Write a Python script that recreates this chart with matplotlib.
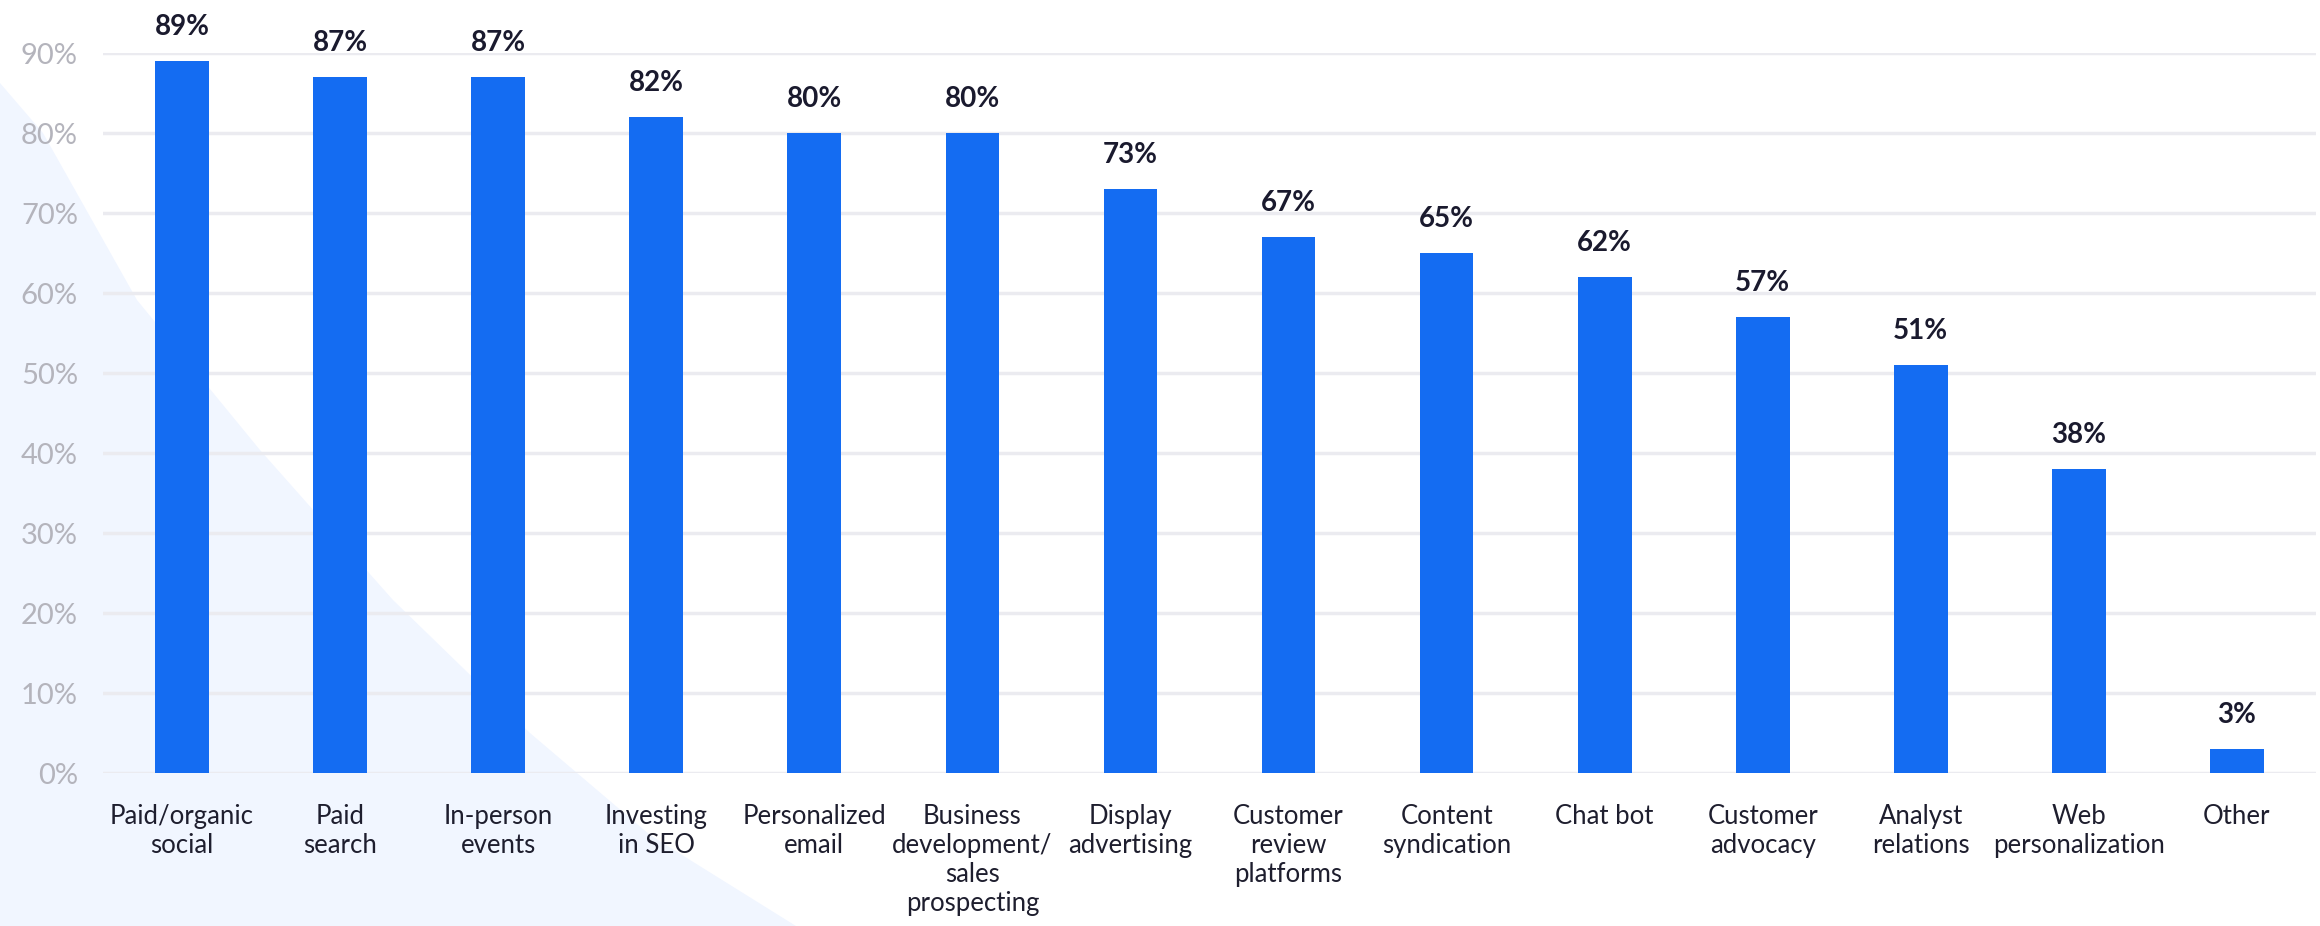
import matplotlib.pyplot as plt
from matplotlib.patches import Polygon

categories = [
    'Paid/organic\nsocial', 'Paid\nsearch', 'In-person\nevents', 'Investing\nin SEO',
    'Personalized\nemail', 'Business\ndevelopment/\nsales\nprospecting', 'Display\nadvertising',
    'Customer\nreview\nplatforms', 'Content\nsyndication', 'Chat bot', 'Customer\nadvocacy',
    'Analyst\nrelations', 'Web\npersonalization', 'Other',
]
values = [89, 87, 87, 82, 80, 80, 73, 67, 65, 62, 57, 51, 38, 3]
yticks = [0, 10, 20, 30, 40, 50, 60, 70, 80, 90]

BLUE = '#146cf2'
W, H = 2320, 926

plt.rcParams['font.family'] = ['Lato', 'DejaVu Sans']

fig = plt.figure(figsize=(W / 100, H / 100), dpi=100)

# soft blue wedge in the lower-left background
edge = [(0, 83), (43, 133), (137, 300), (260, 450), (393, 600), (530, 733),
        (650, 835), (796, 926), (0, 926)]
wedge = Polygon([(x / W, 1 - y / H) for x, y in edge], closed=True,
                transform=fig.transFigure, facecolor='#f1f6ff', edgecolor='none', zorder=-5)
fig.patches.append(wedge)

ax = fig.add_axes([103 / W, (H - 773) / H, (2316 - 103) / W, (773 - 53) / H])
ax.set_zorder(1)
ax.patch.set_alpha(0)

x = range(len(values))
ax.bar(x, values, width=0.34, color=BLUE, zorder=3)

for i, v in enumerate(values):
    ax.annotate('{}%'.format(v), (i, v), xytext=(0, 15), textcoords='offset points',
                ha='center', va='bottom', fontsize=20, fontweight='bold', color='#1a1a2e')

ax.set_xlim(-0.5, 13.5)
ax.set_ylim(0, 90)
ax.set_yticks(yticks)
ax.set_yticklabels(['{}%'.format(t) for t in yticks])
ax.set_xticks(list(x))
ax.set_xticklabels(categories, linespacing=1.2)

ax.grid(axis='y', color='#ebebf0', linewidth=2.5, zorder=1)
ax.set_axisbelow(True)
for s in ax.spines.values():
    s.set_visible(False)

ax.tick_params(axis='y', length=0, pad=18, labelsize=21, labelcolor='#b4b4bc')
ax.tick_params(axis='x', length=0, pad=22, labelsize=18.5, labelcolor='#1e1e2e')

fig.savefig('out.png', dpi=100)
